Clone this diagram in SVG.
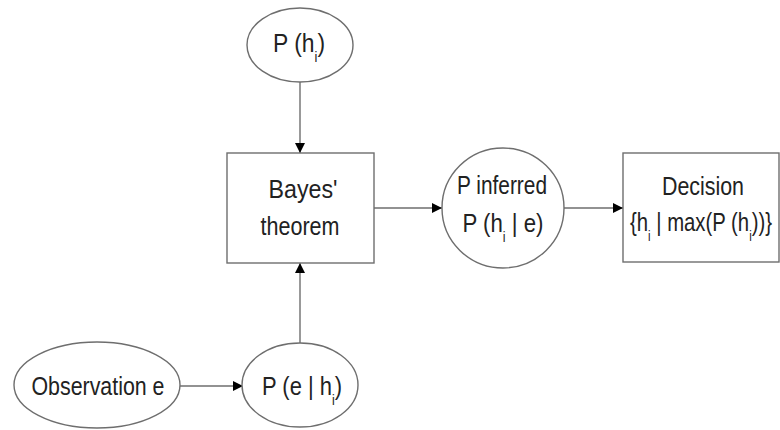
<svg xmlns="http://www.w3.org/2000/svg" width="780" height="430" viewBox="0 0 780 430">
<style>
.shape{fill:#fff;stroke:#6e6e6e;stroke-width:1.4}
.edge{fill:none;stroke:#6e6e6e;stroke-width:1.4}
text{font-family:"Liberation Sans",Arial,sans-serif;font-size:25px;fill:#222;text-anchor:middle}
.sub{font-size:14px}
</style>
<defs>
<marker id="arr" viewBox="0 0 10 10" refX="10" refY="5" markerWidth="11" markerHeight="10" markerUnits="userSpaceOnUse" orient="auto">
<path d="M0,0 L10,5 L0,10 z" fill="#000"/>
</marker>
</defs>
<rect width="780" height="430" fill="#fff"/>
<g id="connectors">
<line class="edge" x1="300" y1="82" x2="300" y2="153" marker-end="url(#arr)"/>
<line class="edge" x1="374" y1="208" x2="442" y2="208" marker-end="url(#arr)"/>
<line class="edge" x1="564" y1="208" x2="623" y2="208" marker-end="url(#arr)"/>
<line class="edge" x1="180" y1="386" x2="243" y2="386" marker-end="url(#arr)"/>
<line class="edge" x1="300" y1="343" x2="300" y2="263" marker-end="url(#arr)"/>
</g>
<g id="prior">
<ellipse class="shape" cx="300" cy="45" rx="53" ry="37"/>
<text x="299" y="52" textLength="52" lengthAdjust="spacingAndGlyphs">P (h<tspan class="sub" dy="10">i</tspan><tspan dy="-10">)</tspan></text>
</g>
<g id="bayes">
<rect class="shape" x="227" y="153" width="147" height="110"/>
<text x="303" y="198" textLength="69" lengthAdjust="spacingAndGlyphs">Bayes'</text>
<text x="300" y="235" textLength="79" lengthAdjust="spacingAndGlyphs">theorem</text>
</g>
<g id="posterior">
<ellipse class="shape" cx="503" cy="208" rx="61" ry="60"/>
<text x="502" y="194" textLength="90" lengthAdjust="spacingAndGlyphs">P inferred</text>
<text x="503" y="232" textLength="81" lengthAdjust="spacingAndGlyphs">P (h<tspan class="sub" dy="10">i</tspan><tspan dy="-10"> | e)</tspan></text>
</g>
<g id="decision">
<rect class="shape" x="623" y="153" width="156" height="109"/>
<text x="703" y="195" textLength="82" lengthAdjust="spacingAndGlyphs">Decision</text>
<text x="701" y="231" textLength="142" lengthAdjust="spacingAndGlyphs">{h<tspan class="sub" dy="10">i</tspan><tspan dy="-10"> | max(P (h</tspan><tspan class="sub" dy="10">i</tspan><tspan dy="-10">))}</tspan></text>
</g>
<g id="observation">
<ellipse class="shape" cx="97" cy="385" rx="83" ry="43"/>
<text x="98" y="395" textLength="133" lengthAdjust="spacingAndGlyphs">Observation e</text>
</g>
<g id="likelihood">
<ellipse class="shape" cx="300" cy="385" rx="58" ry="42"/>
<text x="302" y="395" textLength="80" lengthAdjust="spacingAndGlyphs">P (e | h<tspan class="sub" dy="10">i</tspan><tspan dy="-10">)</tspan></text>
</g>
</svg>
